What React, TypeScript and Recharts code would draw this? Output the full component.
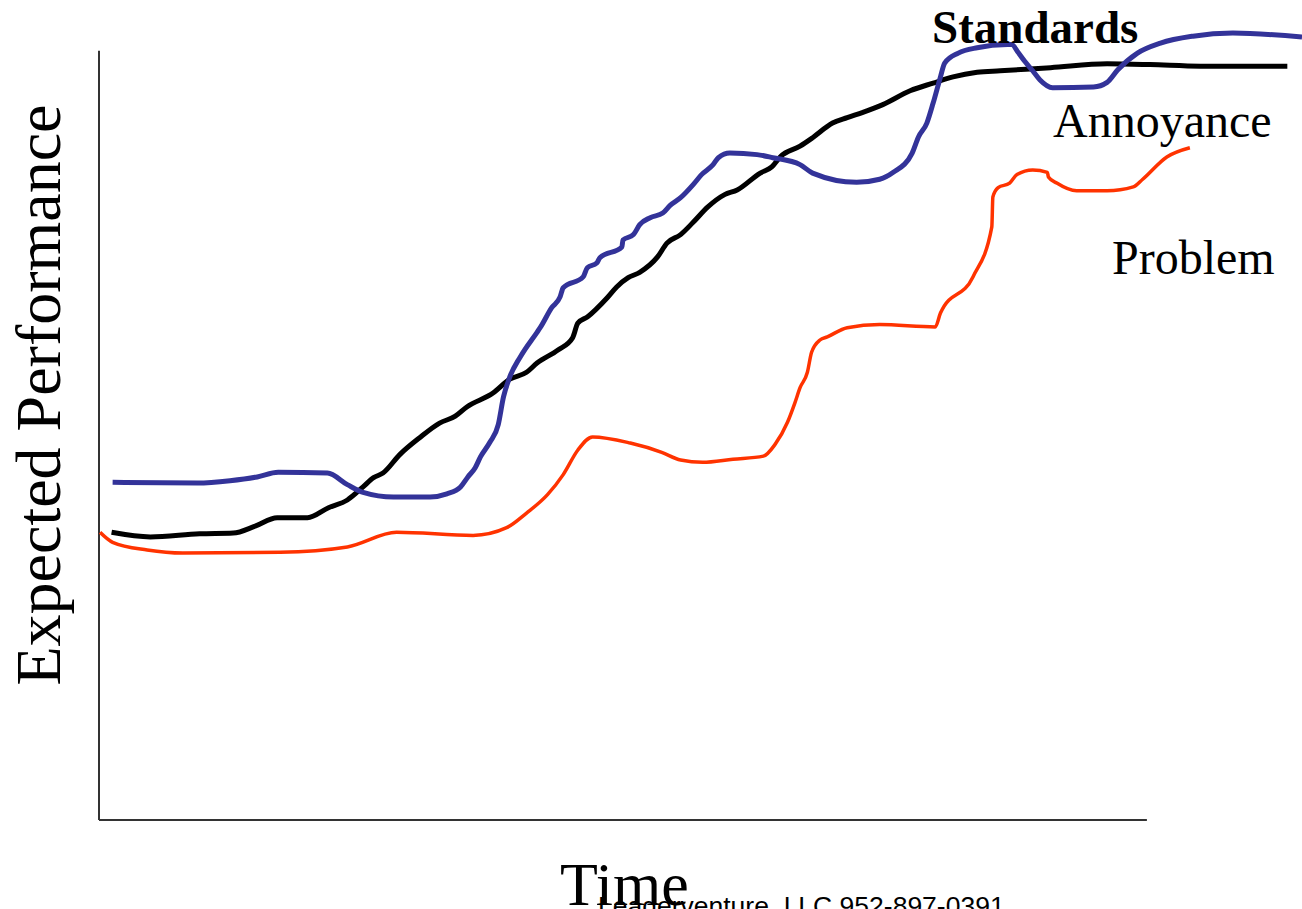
import { LineChart, Line, XAxis, YAxis, ReferenceLine } from "recharts";

// time runs 0..100 along the drawn axis; the curves run past its end
const standards = [
  { t: 1.3, v: 43.9 }, { t: 9.4, v: 43.8 }, { t: 12.5, v: 44.1 }, { t: 15.1, v: 44.6 },
  { t: 17.1, v: 45.2 }, { t: 21.8, v: 45.1 }, { t: 23.7, v: 43.6 }, { t: 25.2, v: 42.6 },
  { t: 28.1, v: 42.0 }, { t: 31.6, v: 42.0 }, { t: 33.2, v: 42.4 }, { t: 34.5, v: 43.3 },
  { t: 35.2, v: 44.6 }, { t: 35.9, v: 45.8 }, { t: 36.4, v: 47.2 }, { t: 37.3, v: 49.1 },
  { t: 38.1, v: 51.4 }, { t: 38.6, v: 55.0 }, { t: 39.2, v: 57.6 }, { t: 40.2, v: 60.2 },
  { t: 41.8, v: 63.4 }, { t: 42.1, v: 64.0 }, { t: 43.2, v: 66.6 }, { t: 44.0, v: 68.0 },
  { t: 44.3, v: 69.2 }, { t: 46.2, v: 70.6 }, { t: 46.6, v: 71.8 }, { t: 47.5, v: 72.4 },
  { t: 47.8, v: 73.1 }, { t: 49.9, v: 74.5 }, { t: 50.0, v: 75.4 }, { t: 51.0, v: 76.1 },
  { t: 51.6, v: 77.4 }, { t: 52.6, v: 78.3 }, { t: 53.8, v: 78.9 }, { t: 54.5, v: 79.9 },
  { t: 55.5, v: 80.9 }, { t: 56.7, v: 82.6 }, { t: 57.5, v: 83.9 }, { t: 58.6, v: 85.2 },
  { t: 59.1, v: 86.1 }, { t: 60.2, v: 86.7 }, { t: 62.8, v: 86.5 }, { t: 64.3, v: 86.1 },
  { t: 66.9, v: 85.2 }, { t: 68.1, v: 84.1 }, { t: 72.3, v: 82.9 }, { t: 74.5, v: 83.3 },
  { t: 75.8, v: 84.2 }, { t: 77.6, v: 86.7 }, { t: 78.2, v: 88.8 }, { t: 79.0, v: 90.6 },
  { t: 79.6, v: 93.2 }, { t: 80.3, v: 96.6 }, { t: 80.7, v: 98.4 }, { t: 82.0, v: 99.7 },
  { t: 83.8, v: 100.4 }, { t: 86.7, v: 100.8 }, { t: 87.1, v: 100.8 }, { t: 87.7, v: 99.8 },
  { t: 88.3, v: 98.7 }, { t: 89.1, v: 97.4 }, { t: 89.8, v: 96.2 }, { t: 91.0, v: 95.2 },
  { t: 94.9, v: 95.3 }, { t: 96.2, v: 95.9 }, { t: 97.2, v: 97.5 }, { t: 99.1, v: 99.7 },
  { t: 101.3, v: 101.0 }, { t: 104.4, v: 101.9 }, { t: 108.2, v: 102.3 }, { t: 114.8, v: 101.8 },
];

const annoyance = [
  { t: 1.2, v: 37.4 }, { t: 4.9, v: 36.8 }, { t: 9.6, v: 37.2 }, { t: 12.8, v: 37.3 },
  { t: 14.9, v: 38.2 }, { t: 17.0, v: 39.3 }, { t: 19.9, v: 39.3 }, { t: 21.9, v: 40.6 },
  { t: 23.7, v: 41.6 }, { t: 25.2, v: 43.3 }, { t: 26.2, v: 44.5 }, { t: 27.1, v: 45.1 },
  { t: 28.7, v: 47.5 }, { t: 30.6, v: 49.7 }, { t: 32.5, v: 51.6 }, { t: 34.0, v: 52.5 },
  { t: 35.1, v: 53.7 }, { t: 37.6, v: 55.5 }, { t: 39.2, v: 57.3 }, { t: 40.8, v: 58.2 },
  { t: 41.8, v: 59.4 }, { t: 43.8, v: 61.1 }, { t: 45.2, v: 62.7 }, { t: 45.7, v: 64.6 },
  { t: 46.6, v: 65.4 }, { t: 48.5, v: 67.9 }, { t: 49.4, v: 69.3 }, { t: 50.5, v: 70.5 },
  { t: 51.6, v: 71.2 }, { t: 53.3, v: 73.2 }, { t: 54.2, v: 75.0 }, { t: 55.5, v: 76.1 },
  { t: 56.7, v: 77.7 }, { t: 58.1, v: 79.7 }, { t: 59.7, v: 81.3 }, { t: 60.9, v: 81.9 },
  { t: 63.1, v: 84.1 }, { t: 64.2, v: 84.9 }, { t: 65.0, v: 86.2 }, { t: 66.9, v: 87.6 },
  { t: 68.1, v: 88.7 }, { t: 70.0, v: 90.6 }, { t: 71.4, v: 91.3 }, { t: 72.9, v: 92.0 },
  { t: 74.8, v: 93.0 }, { t: 77.4, v: 94.8 }, { t: 79.6, v: 95.8 }, { t: 81.5, v: 96.6 },
  { t: 83.8, v: 97.2 }, { t: 86.0, v: 97.4 }, { t: 90.8, v: 97.8 }, { t: 96.2, v: 98.3 },
  { t: 100.3, v: 98.2 }, { t: 105.1, v: 98.0 }, { t: 113.4, v: 98.0 },
];

const problem = [
  { t: 0.1, v: 37.4 }, { t: 1.3, v: 36.1 }, { t: 4.6, v: 35.1 }, { t: 8.0, v: 34.7 },
  { t: 17.3, v: 34.8 }, { t: 23.7, v: 35.5 }, { t: 28.4, v: 37.4 }, { t: 35.7, v: 37.0 },
  { t: 38.9, v: 38.0 }, { t: 40.8, v: 39.9 }, { t: 42.8, v: 42.3 }, { t: 44.3, v: 44.9 },
  { t: 45.7, v: 48.1 }, { t: 47.1, v: 49.8 }, { t: 50.7, v: 49.0 }, { t: 53.7, v: 47.8 },
  { t: 55.5, v: 46.8 }, { t: 57.6, v: 46.5 }, { t: 60.5, v: 46.9 }, { t: 63.4, v: 47.3 },
  { t: 64.5, v: 48.8 }, { t: 65.7, v: 51.7 }, { t: 66.4, v: 54.2 }, { t: 66.9, v: 56.2 },
  { t: 67.6, v: 58.2 }, { t: 68.0, v: 60.8 }, { t: 68.8, v: 62.4 }, { t: 69.5, v: 62.8 },
  { t: 71.4, v: 64.0 }, { t: 74.5, v: 64.4 }, { t: 79.8, v: 64.1 }, { t: 80.3, v: 65.9 },
  { t: 83.4, v: 70.6 }, { t: 85.2, v: 77.1 }, { t: 85.3, v: 81.0 }, { t: 85.8, v: 82.2 },
  { t: 86.9, v: 82.8 }, { t: 87.6, v: 83.9 }, { t: 89.1, v: 84.5 }, { t: 90.5, v: 84.2 },
  { t: 90.6, v: 83.6 }, { t: 91.4, v: 82.8 }, { t: 93.3, v: 81.8 }, { t: 96.2, v: 81.8 },
  { t: 98.7, v: 82.3 }, { t: 99.6, v: 83.3 }, { t: 101.9, v: 86.2 }, { t: 104.1, v: 87.4 },
];

const serif = "'Liberation Serif', 'Times New Roman', serif";

export default function App() {
  return (
    <div style={{ position: "absolute", left: 0, top: 0, width: 1302, height: 909, overflow: "hidden", background: "white" }}>
      <LineChart width={1302} height={909} margin={{ top: 20, right: 0, bottom: 89, left: 99 }}>
        <XAxis type="number" dataKey="t" domain={[0, 114.8]} allowDataOverflow hide />
        <YAxis type="number" dataKey="v" domain={[0, 104]} allowDataOverflow hide />
        <ReferenceLine segment={[{ x: 0, y: 0 }, { x: 0, y: 100 }]} stroke="#333" strokeWidth={2} ifOverflow="visible" />
        <ReferenceLine segment={[{ x: 0, y: 0 }, { x: 100, y: 0 }]} stroke="#333" strokeWidth={2} ifOverflow="visible" />
        <Line data={problem} dataKey="v" type="monotone" stroke="#ff3300" strokeWidth={3.5} dot={false} isAnimationActive={false} />
        <Line data={annoyance} dataKey="v" type="monotone" stroke="#000000" strokeWidth={5} dot={false} isAnimationActive={false} />
        <Line data={standards} dataKey="v" type="monotone" stroke="#333399" strokeWidth={5} dot={false} isAnimationActive={false} />
      </LineChart>

      <svg width={1302} height={909} style={{ position: "absolute", left: 0, top: 0, pointerEvents: "none" }}>
        <text x={932} y={43} fontFamily={serif} fontSize={47} fontWeight="bold" fill="#000">Standards</text>
        <text x={1053} y={137} fontFamily={serif} fontSize={48} fill="#000">Annoyance</text>
        <text x={1112} y={274} fontFamily={serif} fontSize={48} fill="#000">Problem</text>
        <text x={60} y={395} fontFamily={serif} fontSize={64} fill="#000" textAnchor="middle" transform="rotate(-90 60 395)">Expected Performance</text>
        <text x={560} y={905} fontFamily={serif} fontSize={62} fill="#000">Time</text>
        <text x={598} y={915} fontFamily="'Liberation Sans', Arial, sans-serif" fontSize={26.5} fill="#000">Leaderventure, LLC 952-897-0391</text>
      </svg>
    </div>
  );
}
